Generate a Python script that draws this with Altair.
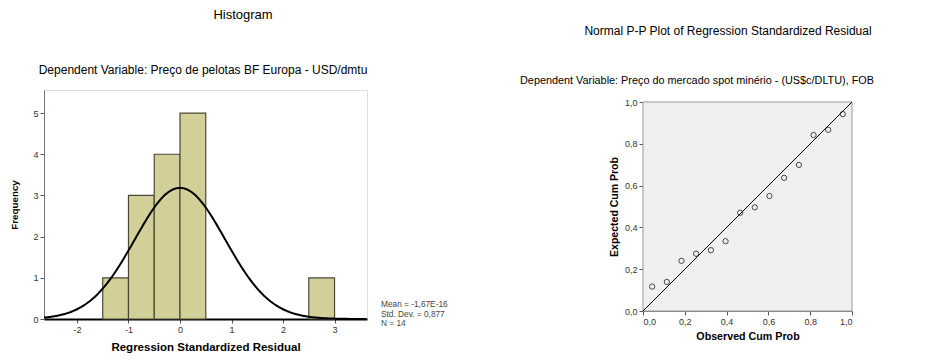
import altair as alt
import pandas as pd

# ---- Histogram data ----
bin_start = [-1.5, -1.0, -0.5, 0.0, 2.5]
bin_end = [-1.0, -0.5, 0.0, 0.5, 3.0]
bin_count = [1, 3, 4, 5, 1]
res_mean = -1.67e-16
res_sd = 0.877
res_n = 14
bin_width = 0.5
hist_x_ticks = [-2, -1, 0, 1, 2, 3]
hist_y_ticks = [0, 1, 2, 3, 4, 5]
stats_lines = ["Mean = -1,67E-16", "Std. Dev. = 0,877", "N = 14"]

# ---- P-P plot data ----
observed_cum = [0.044, 0.114, 0.184, 0.254, 0.325, 0.395, 0.465,
                0.535, 0.605, 0.675, 0.746, 0.816, 0.886, 0.956]
expected_cum = [0.117, 0.139, 0.240, 0.274, 0.291, 0.334, 0.470,
                0.496, 0.550, 0.637, 0.699, 0.842, 0.867, 0.942]
ref_line = [0.0, 1.0]
pp_ticks = [0.0, 0.2, 0.4, 0.6, 0.8, 1.0]

FONT = "Liberation Sans"
BG = "#f0f0f0"
BAR = "#d3cf98"

one = pd.DataFrame({"t": [0]})

def label(text, x, y, size, weight="normal", align="center", baseline="middle", color="#000"):
    return alt.Chart(one).mark_text(
        text=text, align=align, baseline=baseline, font=FONT, fontSize=size,
        fontWeight=weight, color=color
    ).encode(x=alt.value(x), y=alt.value(y))

hist_df = pd.DataFrame({"start": bin_start, "end": bin_end, "count": bin_count})
xs = alt.Scale(domain=[-2.64, 3.63], nice=False, zero=False)
ys = alt.Scale(domain=[0, 5.56], nice=False)

axis_common = dict(labelFont=FONT, labelFontSize=9, labelColor="#333",
                   titleFont=FONT, titleFontWeight="bold",
                   titleColor="#000", tickColor="#555", tickSize=4, grid=False)
int_lab = "datum.value + ''"

bars = alt.Chart(hist_df).mark_rect(fill=BAR, stroke="#4a4a3a", strokeWidth=1.2).encode(
    x=alt.X("start:Q", scale=xs,
            axis=alt.Axis(values=hist_x_ticks, labelExpr=int_lab,
                          title="Regression Standardized Residual", titleFontSize=11.5,
                          domainColor="#000", domainWidth=2, titlePadding=7, **axis_common)),
    x2="end:Q",
    y=alt.Y("count:Q", scale=ys,
            axis=alt.Axis(values=hist_y_ticks, labelExpr=int_lab, title="Frequency",
                          titleFontSize=9.8, domainColor="#777", titlePadding=13,
                          **axis_common)),
    y2=alt.datum(0),
)

curve = alt.Chart(alt.sequence(-2.64, 3.64, 0.02, as_="x")).transform_calculate(
    y=f"{res_n}*{bin_width}*densityNormal(datum.x, {res_mean}, {res_sd})"
).mark_line(color="#000", strokeWidth=2, clip=True).encode(
    x=alt.X("x:Q", scale=xs), y=alt.Y("y:Q", scale=ys)
)

stats = alt.Chart(one).mark_text(
    text=stats_lines, align="left", baseline="top", font=FONT, fontSize=8.3,
    color="#444", lineHeight=9.7
).encode(x=alt.value(337), y=alt.value(210))

left = alt.layer(
    bars, curve, stats,
    label("Histogram", 199, -75.5, 13),
    label("Dependent Variable: Preço de pelotas BF Europa - USD/dmtu", 159, -20, 12),
).properties(width=323, height=229)

# ---- P-P plot ----
# The P-P panel starts 12px lower than the histogram: the view is taller and the
# y range leaves a 12px gap at the top.
pp_df = pd.DataFrame({"obs": observed_cum, "exp": expected_cum})
ref_df = pd.DataFrame({"a": ref_line, "b": ref_line})
pxs = alt.Scale(domain=[0, 1], nice=False)
pys = alt.Scale(domain=[0, 1], nice=False, range=[221, 12])
lab = "replace(format(datum.value, '.1f'), '.', ',')"

frame = alt.Chart(one).mark_rect(fill=BG, stroke="#999", strokeWidth=1).encode(
    x=alt.datum(0.0, scale=pxs), x2=alt.datum(1.0),
    y=alt.datum(0.0, scale=pys), y2=alt.datum(1.0),
)
ref = alt.Chart(ref_df).mark_line(color="#000", strokeWidth=1).encode(
    x=alt.X("a:Q", scale=pxs,
            axis=alt.Axis(values=pp_ticks, labelExpr=lab, title="Observed Cum Prob",
                          titleFontSize=10.7, domainColor="#777", titlePadding=5,
                          **axis_common)),
    y=alt.Y("b:Q", scale=pys,
            axis=alt.Axis(values=pp_ticks, labelExpr=lab, title="Expected Cum Prob",
                          titleFontSize=10.5, domainColor="#777", titlePadding=5,
                          **axis_common)),
)
pts = alt.Chart(pp_df).mark_point(shape="circle", filled=False, color="#000",
                                  size=28, strokeWidth=1).encode(
    x=alt.X("obs:Q", scale=pxs), y=alt.Y("exp:Q", scale=pys)
)

right = alt.layer(
    frame, ref, pts,
    label("Normal P-P Plot of Regression Standardized Residual", 85, -59, 12),
    label("Dependent Variable: Preço do mercado spot minério  - (US$c/DLTU), FOB", 54, -9, 10.85),
).properties(width=209, height=221,
             view=alt.ViewBackground(fill="white", stroke="white"))

chart = alt.hconcat(left, right, spacing=69).properties(
    padding={"left": 1, "top": 0, "right": 0, "bottom": 0}
).configure_view(fill=BG, stroke="#999", strokeWidth=1).configure(background="white")

chart.save("out.html", embed_options={"renderer": "svg", "actions": False})
